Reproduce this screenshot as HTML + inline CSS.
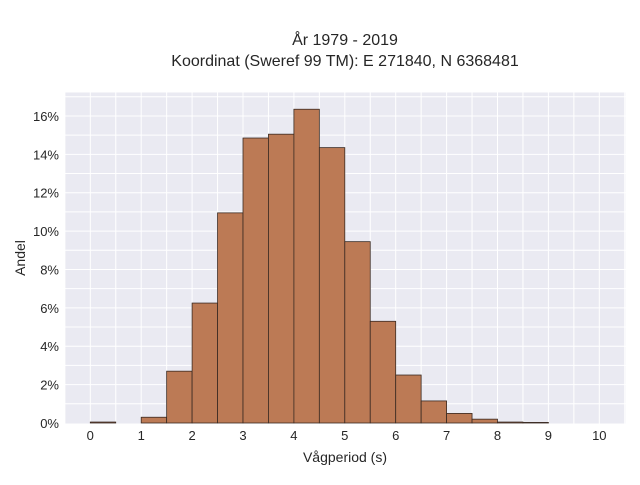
<!DOCTYPE html>
<html><head><meta charset="utf-8"><style>
body{margin:0;background:#fff;}
svg text{font-family:"Liberation Sans",sans-serif;fill:#262626;}
</style></head><body>
<svg id="chart" width="640" height="480">
<text x="345" y="45" font-size="16" text-anchor="middle">År 1979 - 2019</text>
<text x="345" y="66" font-size="16" text-anchor="middle">Koordinat (Sweref 99 TM): E 271840, N 6368481</text>
<rect x="64.5" y="92.5" width="561" height="331" fill="#eaeaf2"/>
<g id="grid"></g><g id="bars"></g><g id="ticks"></g>
<text x="345" y="462" font-size="14" text-anchor="middle">Vågperiod (s)</text>
<text x="25" y="258" font-size="14" text-anchor="middle" transform="rotate(-90 25 258)">Andel</text>
</svg>
<script>
const binStarts=[0,0.5,1,1.5,2,2.5,3,3.5,4,4.5,5,5.5,6,6.5,7,7.5,8,8.5];
const shares=[0.05,0,0.3,2.7,6.25,10.95,14.85,15.05,16.35,14.35,9.45,5.3,2.5,1.15,0.5,0.2,0.05,0.03];
const binWidth=0.5;
const xTicks=[0,1,2,3,4,5,6,7,8,9,10];
const yTicks=[0,2,4,6,8,10,12,14,16];
const NS="http://www.w3.org/2000/svg";
const X=v=>90.3+v*50.9, Y=v=>423-v*19.19;
const grid=document.getElementById('grid'),bars=document.getElementById('bars'),ticks=document.getElementById('ticks');
function mk(tag,attrs,parent){const e=document.createElementNS(NS,tag);for(const k in attrs)e.setAttribute(k,attrs[k]);parent.appendChild(e);return e;}
for(let v=-0.5;v<=10.5;v+=0.5){const l=mk('line',{x1:X(v),x2:X(v),y1:92.5,y2:423.5,stroke:'#fff','stroke-width':1},grid);

}
for(let v=1;v<=17;v+=1){const l=mk('line',{x1:64.5,x2:625.5,y1:Y(v),y2:Y(v),stroke:'#fff','stroke-width':1},grid);

}
binStarts.forEach((s,i)=>{if(shares[i]<=0)return;const r=mk('rect',{x:X(s),y:Y(shares[i]),width:X(s+binWidth)-X(s),height:Y(0)-Y(shares[i]),fill:'#bc7a55',stroke:'#3a2a22','stroke-width':0.8},bars);

});
xTicks.forEach(v=>{const t=mk('text',{x:X(v),y:440,'font-size':13,'text-anchor':'middle'},ticks);t.textContent=v;

});
yTicks.forEach(v=>{const t=mk('text',{x:59,y:Y(v)+5,'font-size':13,'text-anchor':'end'},ticks);t.textContent=v+'%';

});
</script>
</body></html>
